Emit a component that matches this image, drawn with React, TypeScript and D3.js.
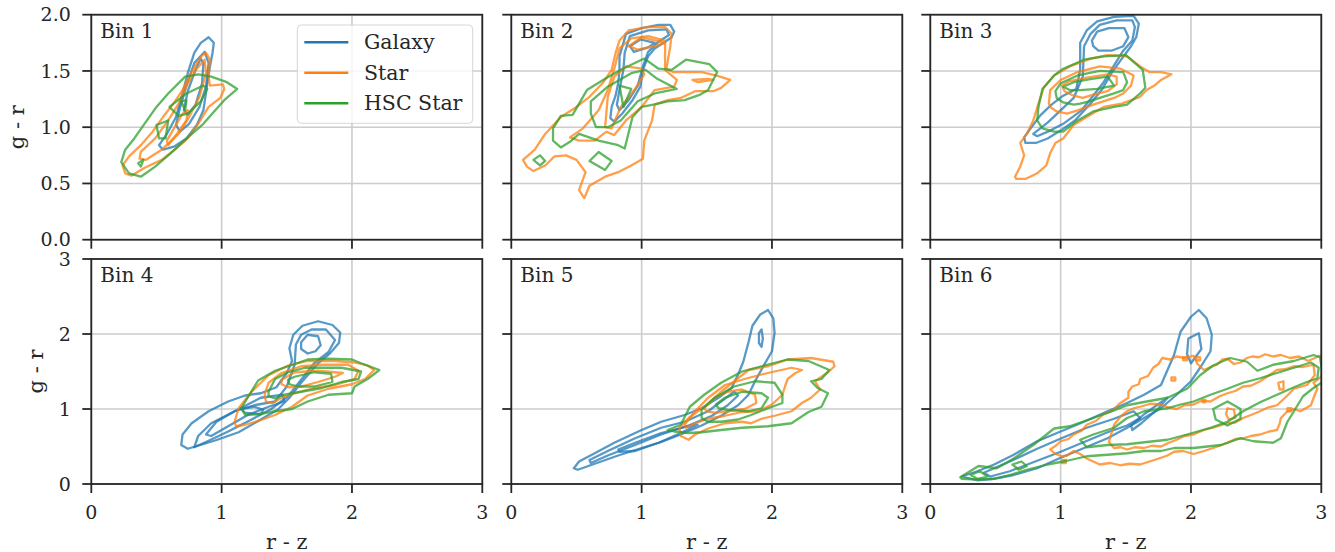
import React from "react";
import * as d3 from "d3";

type Pt = [number, number];
type Contour = Pt[];

const SERIES = ["Galaxy", "Star", "HSC Star"];
const COLORS = ["#1f77b4", "#ff7f0e", "#2ca02c"];
const BIN_LABELS = ["Bin 1", "Bin 2", "Bin 3", "Bin 4", "Bin 5", "Bin 6"];
const X_TICKS = [0, 1, 2, 3];
const Y_TICKS_TOP = [0, 0.5, 1, 1.5, 2];
const Y_TICKS_BOTTOM = [0, 1, 2, 3];
const X_LABEL = "r - z";
const Y_LABEL = "g - r";

const bin1Galaxy: Contour[] = [
  [[0.9,1.8],[0.94,1.75],[0.93,1.66],[0.91,1.54],[0.89,1.39],[0.86,1.15],[0.81,1.02],[0.73,0.9],[0.64,0.83],[0.55,0.8],[0.52,0.84],[0.58,0.94],[0.65,1.09],[0.7,1.3],[0.74,1.48],[0.79,1.66],[0.84,1.75]],
  [[0.87,1.67],[0.9,1.57],[0.88,1.36],[0.83,1.18],[0.75,1.03],[0.68,0.96],[0.65,1.02],[0.68,1.17],[0.73,1.37],[0.79,1.57]],
  [[0.84,1.61],[0.86,1.57],[0.85,1.39],[0.8,1.2],[0.74,1.11],[0.71,1.15],[0.74,1.32],[0.8,1.51]],
];
const bin1Star: Contour[] = [
  [[0.88,1.66],[0.91,1.6],[0.9,1.45],[0.91,1.37],[1.01,1.38],[1.02,1.34],[0.99,1.26],[0.9,1.18],[0.82,1.03],[0.74,0.9],[0.65,0.81],[0.54,0.71],[0.41,0.64],[0.31,0.57],[0.26,0.59],[0.24,0.66],[0.29,0.74],[0.38,0.84],[0.47,0.96],[0.55,1.09],[0.63,1.21],[0.7,1.33],[0.75,1.45],[0.81,1.57],[0.85,1.64]],
  [[0.87,1.6],[0.88,1.48],[0.83,1.27],[0.75,1.09],[0.67,0.94],[0.54,0.8],[0.42,0.71],[0.37,0.72],[0.38,0.78],[0.49,0.9],[0.59,1.06],[0.67,1.21],[0.74,1.39],[0.81,1.52]],
  [[0.58,0.88],[0.64,1.0],[0.7,1.12],[0.74,1.15],[0.73,1.06],[0.65,0.93],[0.59,0.84]],
];
const bin1Hsc: Contour[] = [
  [[0.23,0.69],[0.26,0.8],[0.33,0.9],[0.42,1.05],[0.5,1.18],[0.59,1.3],[0.72,1.45],[0.82,1.47],[0.92,1.45],[1.04,1.4],[1.12,1.34],[1.02,1.24],[0.92,1.11],[0.86,1.03],[0.74,0.91],[0.61,0.77],[0.49,0.65],[0.38,0.56],[0.29,0.59]],
  [[0.6,1.18],[0.73,1.3],[0.86,1.37],[0.89,1.34],[0.84,1.23],[0.74,1.12],[0.67,1.1]],
  [[0.5,1.02],[0.59,1.06],[0.57,0.9],[0.52,0.9]],
  [[0.36,0.68],[0.4,0.71],[0.38,0.65]],
  [[0.69,1.23],[0.73,1.24],[0.72,1.15]],
];

const bin2Galaxy: Contour[] = [
  [[0.88,1.83],[1.0,1.88],[1.13,1.91],[1.22,1.91],[1.25,1.85],[1.23,1.8],[1.18,1.76],[1.1,1.7],[1.05,1.63],[1.01,1.51],[0.99,1.36],[0.93,1.24],[0.85,1.12],[0.79,1.05],[0.76,1.08],[0.77,1.18],[0.8,1.28],[0.82,1.39],[0.83,1.51],[0.83,1.63],[0.86,1.75]],
  [[0.91,1.81],[1.05,1.86],[1.19,1.87],[1.21,1.82],[1.13,1.76],[1.05,1.67],[1.01,1.54],[0.97,1.37],[0.9,1.24],[0.83,1.15],[0.81,1.2],[0.83,1.33],[0.86,1.51],[0.87,1.66]],
  [[0.91,1.72],[0.99,1.78],[1.1,1.75],[1.05,1.71],[0.94,1.67]],
];
const bin2Star: Contour[] = [
  [[0.09,0.71],[0.18,0.8],[0.26,0.94],[0.38,1.09],[0.5,1.18],[0.6,1.27],[0.7,1.39],[0.77,1.51],[0.8,1.66],[0.83,1.77],[0.9,1.86],[1.05,1.89],[1.18,1.89],[1.23,1.83],[1.22,1.72],[1.19,1.52],[1.24,1.49],[1.46,1.49],[1.57,1.46],[1.68,1.42],[1.61,1.35],[1.55,1.32],[1.41,1.32],[1.3,1.26],[1.2,1.24],[1.1,1.2],[1.08,1.06],[1.02,0.88],[1.01,0.72],[0.92,0.66],[0.82,0.6],[0.72,0.56],[0.6,0.48],[0.56,0.37],[0.52,0.44],[0.57,0.6],[0.5,0.71],[0.42,0.75],[0.33,0.74],[0.26,0.66],[0.17,0.61],[0.12,0.65]],
  [[0.45,0.91],[0.55,0.99],[0.67,1.15],[0.74,1.33],[0.79,1.52],[0.83,1.7],[0.92,1.79],[1.05,1.81],[1.18,1.77],[1.18,1.51],[1.27,1.42],[1.25,1.36],[1.1,1.33],[1.0,1.18],[0.88,1.06],[0.79,0.93],[0.73,0.96],[0.64,0.88],[0.52,0.88]],
  [[0.72,1.0],[0.74,1.27],[0.79,1.45],[0.88,1.54],[1.0,1.52],[1.02,1.47],[0.95,1.34],[0.84,1.18],[0.77,0.99]],
  [[1.39,1.42],[1.51,1.43],[1.55,1.42],[1.43,1.4]],
  [[0.9,1.72],[1.0,1.8],[1.11,1.77],[1.18,1.75],[1.1,1.72],[0.97,1.69]],
];
const bin2Hsc: Contour[] = [
  [[0.32,0.99],[0.38,1.1],[0.47,1.11],[0.58,1.33],[0.72,1.43],[0.84,1.51],[1.02,1.61],[1.13,1.52],[1.23,1.51],[1.34,1.6],[1.52,1.56],[1.58,1.49],[1.51,1.33],[1.45,1.29],[1.33,1.24],[1.2,1.23],[1.09,1.2],[1.0,1.18],[0.93,1.09],[0.87,0.81],[0.82,0.84],[0.67,0.88],[0.52,0.94],[0.45,0.87],[0.38,0.82],[0.32,0.88]],
  [[0.61,1.23],[0.74,1.36],[0.92,1.48],[1.03,1.51],[1.12,1.43],[1.27,1.34],[1.1,1.3],[0.97,1.23],[0.84,1.06],[0.74,1.0],[0.65,1.0],[0.61,1.12]],
  [[0.83,1.37],[0.92,1.34],[0.86,1.18]],
  [[0.17,0.71],[0.22,0.75],[0.26,0.7],[0.22,0.66]],
  [[0.6,0.7],[0.67,0.78],[0.77,0.7],[0.72,0.62]],
];

const bin3Galaxy: Contour[] = [
  [[0.72,0.91],[0.77,0.99],[0.84,1.1],[0.93,1.2],[1.02,1.28],[1.12,1.34],[1.15,1.51],[1.15,1.75],[1.2,1.86],[1.28,1.94],[1.41,1.98],[1.56,1.99],[1.6,1.92],[1.58,1.8],[1.54,1.72],[1.47,1.61],[1.39,1.48],[1.32,1.34],[1.23,1.21],[1.11,1.06],[1.0,0.97],[0.9,0.9],[0.81,0.86],[0.73,0.86]],
  [[0.79,0.94],[0.9,1.04],[1.0,1.15],[1.1,1.26],[1.17,1.45],[1.18,1.72],[1.23,1.83],[1.3,1.91],[1.43,1.95],[1.55,1.95],[1.57,1.89],[1.55,1.77],[1.48,1.68],[1.41,1.55],[1.33,1.4],[1.25,1.28],[1.16,1.15],[1.02,1.03],[0.92,0.97],[0.82,0.92]],
  [[1.24,1.77],[1.28,1.85],[1.37,1.88],[1.49,1.88],[1.52,1.8],[1.48,1.72],[1.39,1.68],[1.29,1.68],[1.25,1.72]],
];
const bin3Star: Contour[] = [
  [[0.65,0.56],[0.69,0.65],[0.72,0.75],[0.69,0.86],[0.74,0.94],[0.79,1.06],[0.83,1.21],[0.87,1.35],[0.95,1.46],[1.07,1.54],[1.23,1.61],[1.36,1.64],[1.51,1.63],[1.61,1.54],[1.68,1.49],[1.77,1.49],[1.85,1.47],[1.77,1.42],[1.72,1.37],[1.66,1.33],[1.61,1.27],[1.47,1.21],[1.33,1.18],[1.2,1.09],[1.1,1.02],[1.02,0.9],[0.96,0.86],[0.92,0.77],[0.89,0.66],[0.82,0.59],[0.73,0.54],[0.66,0.54]],
  [[0.91,1.21],[0.92,1.33],[1.0,1.42],[1.13,1.49],[1.3,1.54],[1.46,1.52],[1.56,1.46],[1.54,1.37],[1.48,1.3],[1.41,1.26],[1.25,1.2],[1.13,1.15],[1.05,1.12],[0.97,1.14],[0.92,1.18]],
  [[1.01,1.37],[1.07,1.41],[1.2,1.44],[1.36,1.47],[1.43,1.45],[1.43,1.38],[1.36,1.32],[1.25,1.29],[1.17,1.26],[1.1,1.28],[1.03,1.32]],
];
const bin3Hsc: Contour[] = [
  [[0.83,1.18],[0.86,1.34],[0.95,1.46],[1.02,1.52],[1.18,1.6],[1.33,1.63],[1.5,1.64],[1.63,1.51],[1.65,1.35],[1.61,1.3],[1.51,1.2],[1.41,1.18],[1.25,1.14],[1.13,1.06],[1.02,0.96],[0.95,0.96],[0.86,0.99],[0.82,1.06]],
  [[0.96,1.32],[1.0,1.39],[1.13,1.46],[1.3,1.5],[1.48,1.49],[1.51,1.4],[1.48,1.33],[1.41,1.3],[1.3,1.26],[1.22,1.23],[1.15,1.21],[1.1,1.2],[1.02,1.22],[0.97,1.26]],
  [[1.02,1.36],[1.1,1.4],[1.24,1.43],[1.36,1.45],[1.41,1.37],[1.28,1.34],[1.15,1.33],[1.07,1.33]],
];

const bin4Galaxy: Contour[] = [
  [[0.69,0.52],[0.74,0.47],[0.95,0.58],[1.13,0.69],[1.3,0.86],[1.43,0.99],[1.52,1.15],[1.61,1.35],[1.74,1.61],[1.83,1.74],[1.9,1.88],[1.91,2.02],[1.85,2.12],[1.74,2.17],[1.62,2.11],[1.55,1.99],[1.52,1.81],[1.54,1.64],[1.5,1.48],[1.42,1.29],[1.3,1.21],[1.18,1.18],[1.05,1.1],[0.9,0.97],[0.77,0.81],[0.7,0.66]],
  [[0.79,0.49],[0.82,0.64],[0.92,0.81],[1.1,0.97],[1.25,1.05],[1.41,1.1],[1.5,1.3],[1.56,1.59],[1.57,1.86],[1.61,1.99],[1.69,2.06],[1.8,2.06],[1.87,1.92],[1.82,1.76],[1.71,1.61],[1.61,1.39],[1.51,1.17],[1.38,1.0],[1.23,0.86],[1.05,0.7],[0.88,0.56]],
  [[0.88,0.66],[0.96,0.83],[1.1,0.97],[1.3,1.15],[1.47,1.19],[1.48,1.1],[1.36,1.03],[1.2,0.92],[1.05,0.77],[0.92,0.64]],
  [[1.15,1.0],[1.25,1.03],[1.32,0.99],[1.3,0.93],[1.18,0.95]],
  [[1.61,1.89],[1.66,1.99],[1.74,1.97],[1.76,1.85],[1.72,1.77],[1.66,1.74],[1.61,1.8]],
];
const bin4Star: Contour[] = [
  [[1.1,0.83],[1.13,1.01],[1.23,1.23],[1.36,1.45],[1.51,1.58],[1.66,1.64],[1.87,1.64],[2.02,1.62],[2.12,1.58],[2.17,1.52],[2.1,1.4],[2.0,1.33],[1.82,1.27],[1.66,1.18],[1.54,1.03],[1.41,0.92],[1.28,0.84],[1.18,0.79],[1.11,0.77]],
  [[1.33,1.19],[1.36,1.35],[1.46,1.48],[1.61,1.57],[1.77,1.59],[1.97,1.59],[2.05,1.51],[2.02,1.4],[1.87,1.32],[1.71,1.28],[1.56,1.21],[1.46,1.15],[1.39,1.08],[1.34,1.1]],
  [[1.46,1.39],[1.56,1.49],[1.74,1.51],[1.93,1.48],[1.87,1.43],[1.74,1.36],[1.61,1.3],[1.51,1.29],[1.46,1.33]],
];
const bin4Hsc: Contour[] = [
  [[1.15,1.01],[1.28,1.38],[1.41,1.51],[1.56,1.6],[1.66,1.66],[1.82,1.67],[2.0,1.66],[2.07,1.61],[2.21,1.52],[2.12,1.4],[2.02,1.3],[2.0,1.21],[1.82,1.19],[1.66,1.1],[1.54,1.0],[1.41,0.97],[1.28,0.93],[1.18,0.92]],
  [[1.36,1.23],[1.41,1.4],[1.51,1.49],[1.64,1.55],[1.92,1.55],[2.07,1.5],[2.05,1.4],[1.92,1.36],[1.77,1.28],[1.61,1.23],[1.48,1.19],[1.41,1.14],[1.36,1.17]],
  [[1.51,1.39],[1.56,1.43],[1.71,1.49],[1.84,1.47],[1.85,1.36],[1.71,1.3],[1.59,1.3],[1.52,1.33]],
];

const bin5Galaxy: Contour[] = [
  [[0.48,0.21],[0.52,0.3],[0.64,0.41],[0.79,0.55],[1.0,0.72],[1.15,0.83],[1.33,0.92],[1.46,1.01],[1.59,1.15],[1.69,1.28],[1.74,1.46],[1.78,1.63],[1.82,1.89],[1.85,2.11],[1.91,2.26],[1.97,2.32],[2.01,2.21],[2.02,2.02],[2.0,1.77],[1.94,1.59],[1.87,1.37],[1.82,1.19],[1.74,1.05],[1.61,0.91],[1.46,0.78],[1.3,0.66],[1.15,0.56],[1.0,0.48],[0.82,0.38],[0.64,0.27],[0.51,0.19]],
  [[0.6,0.32],[0.74,0.44],[0.95,0.61],[1.15,0.75],[1.33,0.83],[1.51,0.97],[1.64,1.14],[1.71,1.23],[1.74,1.18],[1.66,1.05],[1.54,0.91],[1.36,0.78],[1.15,0.66],[0.95,0.52],[0.74,0.38],[0.61,0.28]],
  [[0.82,0.46],[0.95,0.55],[1.15,0.68],[1.33,0.76],[1.43,0.79],[1.3,0.68],[1.13,0.55],[0.95,0.44],[0.83,0.43]],
  [[1.9,2.01],[1.92,2.06],[1.93,1.94],[1.92,1.83],[1.9,1.88]],
];
const bin5Star: Contour[] = [
  [[1.29,0.75],[1.36,0.88],[1.48,1.03],[1.61,1.23],[1.74,1.41],[1.82,1.52],[1.97,1.57],[2.12,1.66],[2.3,1.68],[2.47,1.63],[2.48,1.57],[2.43,1.49],[2.33,1.37],[2.37,1.26],[2.3,1.15],[2.23,1.08],[2.15,0.97],[2.02,0.91],[1.92,0.87],[1.84,0.81],[1.77,0.83],[1.64,0.81],[1.51,0.74],[1.41,0.66],[1.36,0.59],[1.3,0.64]],
  [[1.33,0.79],[1.41,0.97],[1.51,1.15],[1.64,1.32],[1.79,1.4],[1.92,1.46],[2.02,1.5],[2.15,1.55],[2.23,1.52],[2.18,1.48],[2.12,1.4],[2.1,1.3],[2.08,1.19],[2.0,1.06],[1.89,0.97],[1.77,0.96],[1.64,0.91],[1.51,0.87],[1.41,0.81],[1.34,0.75]],
  [[1.48,1.01],[1.56,1.15],[1.66,1.23],[1.77,1.26],[1.87,1.19],[1.88,1.08],[1.79,1.0],[1.66,0.97],[1.56,0.95],[1.5,0.97]],
];
const bin5Hsc: Contour[] = [
  [[1.2,0.72],[1.3,0.79],[1.37,1.03],[1.48,1.19],[1.61,1.35],[1.77,1.5],[1.92,1.57],[2.12,1.66],[2.28,1.64],[2.44,1.52],[2.38,1.4],[2.3,1.37],[2.35,1.28],[2.43,1.21],[2.38,1.03],[2.28,0.96],[2.15,0.81],[1.97,0.77],[1.77,0.75],[1.61,0.72],[1.46,0.69],[1.36,0.68],[1.25,0.7]],
  [[1.46,0.88],[1.46,0.99],[1.56,1.15],[1.71,1.3],[1.87,1.37],[2.02,1.35],[2.08,1.19],[2.08,1.08],[1.97,1.01],[1.84,0.92],[1.74,0.86],[1.61,0.83],[1.51,0.83]],
  [[1.57,1.06],[1.64,1.15],[1.77,1.23],[1.92,1.21],[1.97,1.15],[1.92,1.01],[1.82,0.97],[1.66,0.99],[1.59,1.01]],
];

const bin6Galaxy: Contour[] = [
  [[0.24,0.1],[0.36,0.17],[0.49,0.26],[0.64,0.39],[0.82,0.57],[1.0,0.7],[1.18,0.83],[1.36,0.97],[1.51,1.08],[1.64,1.19],[1.77,1.32],[1.87,1.72],[1.92,2.03],[2.0,2.23],[2.06,2.32],[2.12,2.21],[2.16,1.99],[2.15,1.77],[2.07,1.55],[2.0,1.37],[1.89,1.19],[1.77,1.01],[1.64,0.88],[1.51,0.75],[1.36,0.61],[1.18,0.48],[1.0,0.35],[0.82,0.21],[0.64,0.12],[0.49,0.07],[0.36,0.05]],
  [[0.41,0.15],[0.61,0.3],[0.82,0.47],[1.02,0.62],[1.2,0.75],[1.41,0.87],[1.56,0.97],[1.61,0.88],[1.51,0.78],[1.36,0.69],[1.18,0.56],[1.0,0.43],[0.79,0.29],[0.61,0.17],[0.46,0.1]],
  [[1.98,1.94],[2.06,2.01],[2.08,1.8],[2.0,1.61],[1.97,1.73]],
  [[1.54,0.78],[1.64,0.93],[1.77,1.09],[1.82,1.15],[1.74,0.99],[1.62,0.81],[1.55,0.72]],
];
const bin6Star: Contour[] = [
  [[0.92,0.46],[0.97,0.52],[1.0,0.57],[1.06,0.6],[1.1,0.66],[1.16,0.71],[1.2,0.79],[1.27,0.84],[1.33,0.93],[1.4,0.98],[1.45,1.07],[1.52,1.15],[1.52,1.23],[1.55,1.3],[1.6,1.33],[1.61,1.4],[1.67,1.44],[1.71,1.55],[1.75,1.6],[1.78,1.68],[1.84,1.66],[1.89,1.7],[1.95,1.68],[2.02,1.71],[2.05,1.6],[2.1,1.52],[2.15,1.56],[2.2,1.59],[2.24,1.66],[2.28,1.67],[2.33,1.6],[2.38,1.62],[2.43,1.68],[2.47,1.7],[2.52,1.69],[2.57,1.73],[2.63,1.7],[2.69,1.72],[2.76,1.68],[2.83,1.7],[2.9,1.64],[2.95,1.68],[3.0,1.72],[3.02,1.46],[2.94,1.35],[2.97,1.27],[2.95,1.19],[2.92,1.05],[2.84,0.97],[2.79,1.0],[2.74,0.97],[2.69,0.88],[2.68,0.8],[2.66,0.72],[2.6,0.7],[2.53,0.66],[2.46,0.64],[2.4,0.61],[2.34,0.6],[2.28,0.55],[2.22,0.51],[2.17,0.48],[2.1,0.44],[2.02,0.4],[1.94,0.44],[1.87,0.43],[1.82,0.38],[1.77,0.35],[1.7,0.31],[1.61,0.26],[1.53,0.27],[1.46,0.25],[1.38,0.28],[1.3,0.26],[1.25,0.3],[1.2,0.34],[1.15,0.4],[1.1,0.44],[1.05,0.38],[1.01,0.37],[0.96,0.4]],
  [[1.37,0.56],[1.41,0.79],[1.46,0.9],[1.51,0.97],[1.56,1.01],[1.61,1.03],[1.69,1.07],[1.77,1.06],[1.83,1.02],[1.89,1.0],[1.95,1.05],[2.02,1.06],[2.08,1.11],[2.15,1.1],[2.22,1.17],[2.28,1.21],[2.34,1.24],[2.4,1.3],[2.46,1.31],[2.53,1.37],[2.6,1.45],[2.66,1.52],[2.72,1.53],[2.79,1.57],[2.86,1.56],[2.94,1.59],[2.95,1.45],[2.89,1.32],[2.79,1.27],[2.74,1.18],[2.66,1.05],[2.59,1.02],[2.53,0.97],[2.46,0.92],[2.4,0.88],[2.34,0.82],[2.28,0.81],[2.17,0.75],[2.1,0.72],[2.02,0.66],[1.95,0.64],[1.89,0.59],[1.83,0.55],[1.77,0.5],[1.7,0.51],[1.64,0.48],[1.57,0.49],[1.51,0.46],[1.46,0.49],[1.41,0.48]],
  [[2.28,1.01],[2.33,0.99],[2.34,0.88],[2.29,0.86],[2.27,0.93]],
  [[2.67,1.35],[2.71,1.37],[2.71,1.26],[2.68,1.26]],
  [[1.85,1.42],[1.88,1.42],[1.88,1.38],[1.85,1.38]],
  [[1.94,1.69],[1.97,1.69],[1.97,1.65],[1.94,1.65]],
  [[2.04,1.69],[2.07,1.69],[2.07,1.65],[2.04,1.65]],
  [[1.01,0.32],[1.04,0.32],[1.04,0.28],[1.01,0.28]],
  [[2.74,1.01],[2.77,1.01],[2.77,0.97],[2.74,0.97]],
  [[2.09,1.12],[2.11,1.12],[2.11,1.09],[2.09,1.09]],
];
const bin6Hsc: Contour[] = [
  [[0.23,0.09],[0.37,0.24],[0.51,0.21],[0.64,0.34],[0.79,0.52],[0.95,0.74],[1.07,0.77],[1.25,0.88],[1.41,0.98],[1.51,1.05],[1.66,1.1],[1.82,1.15],[1.97,1.27],[2.07,1.45],[2.17,1.58],[2.3,1.68],[2.43,1.63],[2.51,1.51],[2.63,1.59],[2.79,1.64],[2.94,1.72],[2.99,1.69],[3.02,1.37],[2.94,1.28],[2.86,1.17],[2.79,0.97],[2.74,0.83],[2.69,0.61],[2.63,0.55],[2.48,0.57],[2.38,0.61],[2.23,0.52],[2.02,0.48],[1.87,0.48],[1.77,0.44],[1.64,0.44],[1.51,0.41],[1.36,0.39],[1.2,0.37],[1.05,0.31],[0.9,0.26],[0.74,0.19],[0.61,0.12],[0.49,0.07],[0.36,0.06],[0.24,0.07]],
  [[1.15,0.59],[1.25,0.66],[1.41,0.75],[1.51,0.88],[1.64,0.97],[1.82,1.01],[1.92,1.06],[2.02,1.1],[2.15,1.19],[2.28,1.27],[2.4,1.35],[2.53,1.41],[2.66,1.48],[2.79,1.55],[2.92,1.62],[2.98,1.55],[2.97,1.41],[2.89,1.36],[2.79,1.29],[2.66,1.19],[2.53,1.09],[2.4,0.97],[2.28,0.83],[2.15,0.75],[1.97,0.66],[1.82,0.59],[1.66,0.56],[1.51,0.53],[1.36,0.52],[1.2,0.49]],
  [[2.17,1.0],[2.28,1.1],[2.38,1.0],[2.38,0.87],[2.28,0.78],[2.19,0.86]],
  [[0.63,0.26],[0.7,0.3],[0.74,0.24],[0.68,0.19]],
  [[0.31,0.12],[0.38,0.17],[0.44,0.1],[0.36,0.07]],
];

const PANEL_DATA: Contour[][][] = [
  [bin1Galaxy, bin1Star, bin1Hsc],
  [bin2Galaxy, bin2Star, bin2Hsc],
  [bin3Galaxy, bin3Star, bin3Hsc],
  [bin4Galaxy, bin4Star, bin4Hsc],
  [bin5Galaxy, bin5Star, bin5Hsc],
  [bin6Galaxy, bin6Star, bin6Hsc],
];

const W = 1335;
const H = 552;
const COL_X = [91.3, 511.3, 930.3];
const ROW_Y = [14.7, 259];
const PW = 391;
const PH = 225;
const FONT = "'DejaVu Serif', serif";
const TEXT = "#262626";
const SPINE = "#262626";
const GRID = "#cccccc";

export default function App() {
  const x = d3.scaleLinear().domain([0, 3]).range([0, PW]);
  const yTop = d3.scaleLinear().domain([0, 2]).range([PH, 0]);
  const yBot = d3.scaleLinear().domain([0, 3]).range([PH, 0]);

  return (
    <svg width={W} height={H} style={{ position: "absolute", left: 0, top: 0, background: "#fff" }}>
      <defs>
        {PANEL_DATA.map((_, i) => (
          <clipPath id={`clip${i}`} key={i}>
            <rect x={0} y={0} width={PW} height={PH} />
          </clipPath>
        ))}
      </defs>
      {PANEL_DATA.map((series, i) => {
        const row = Math.floor(i / 3);
        const col = i % 3;
        const y = row === 0 ? yTop : yBot;
        const yTicks = row === 0 ? Y_TICKS_TOP : Y_TICKS_BOTTOM;
        const yFmt = row === 0 ? d3.format(".1f") : d3.format("d");
        const line = d3
          .line<Pt>()
          .x((d) => x(d[0]))
          .y((d) => y(d[1]))
          .curve(d3.curveLinearClosed);
        return (
          <g key={i} transform={`translate(${COL_X[col]},${ROW_Y[row]})`}>
            {X_TICKS.map((t) => (
              <line key={"gx" + t} x1={x(t)} x2={x(t)} y1={0} y2={PH} stroke={GRID} strokeWidth={1.6} />
            ))}
            {yTicks.map((t) => (
              <line key={"gy" + t} x1={0} x2={PW} y1={y(t)} y2={y(t)} stroke={GRID} strokeWidth={1.6} />
            ))}
            <g clipPath={`url(#clip${i})`}>
              {series.map((contours, s) =>
                contours.map((c, k) => (
                  <path
                    key={s + "-" + k}
                    d={line(c) || ""}
                    fill="none"
                    stroke={COLORS[s]}
                    strokeOpacity={0.75}
                    strokeWidth={2.3}
                    strokeLinejoin="round"
                  />
                ))
              )}
            </g>
            {i === 0 && (
              <g transform={`translate(${206},${10.3})`}>
                <rect x={0} y={0} width={175.4} height={98.3} rx={4} fill="#fff" fillOpacity={0.8} stroke="#cccccc" strokeOpacity={0.8} strokeWidth={1} />
                {SERIES.map((name, s) => (
                  <g key={name} transform={`translate(0,${17.3 + s * 30.5})`}>
                    <line x1={7} x2={51} y1={0} y2={0} stroke={COLORS[s]} strokeWidth={2.5} />
                    <text x={66.7} y={6.8} fontFamily={FONT} fontSize={20.5} fill={TEXT}>
                      {name}
                    </text>
                  </g>
                ))}
              </g>
            )}
            <rect x={0} y={0} width={PW} height={PH} fill="none" stroke={SPINE} strokeWidth={1.8} />
            {X_TICKS.map((t) => (
              <line key={"tx" + t} x1={x(t)} x2={x(t)} y1={PH} y2={PH + 9} stroke={SPINE} strokeWidth={1.8} />
            ))}
            {yTicks.map((t) => (
              <line key={"ty" + t} x1={-9} x2={0} y1={y(t)} y2={y(t)} stroke={SPINE} strokeWidth={1.8} />
            ))}
            {row === 1 &&
              X_TICKS.map((t) => (
                <text key={"lx" + t} x={x(t)} y={PH + 34.5} textAnchor="middle" fontFamily={FONT} fontSize={19} fill={TEXT}>
                  {t}
                </text>
              ))}
            {col === 0 &&
              yTicks.map((t) => (
                <text key={"ly" + t} x={-20.5} y={y(t) + 6.6} textAnchor="end" fontFamily={FONT} fontSize={19} fill={TEXT}>
                  {yFmt(t)}
                </text>
              ))}
            <text x={9} y={23} fontFamily={FONT} fontSize={20} fill={TEXT}>
              {BIN_LABELS[i]}
            </text>
            {row === 1 && (
              <text x={PW / 2} y={PH + 64.5} textAnchor="middle" fontFamily={FONT} fontSize={21} fill={TEXT}>
                {X_LABEL}
              </text>
            )}
            {col === 0 && (
              <text
                transform={`translate(${row === 0 ? -67 : -48},${PH / 2}) rotate(-90)`}
                textAnchor="middle"
                fontFamily={FONT}
                fontSize={21}
                fill={TEXT}
              >
                {Y_LABEL}
              </text>
            )}
          </g>
        );
      })}
    </svg>
  );
}
